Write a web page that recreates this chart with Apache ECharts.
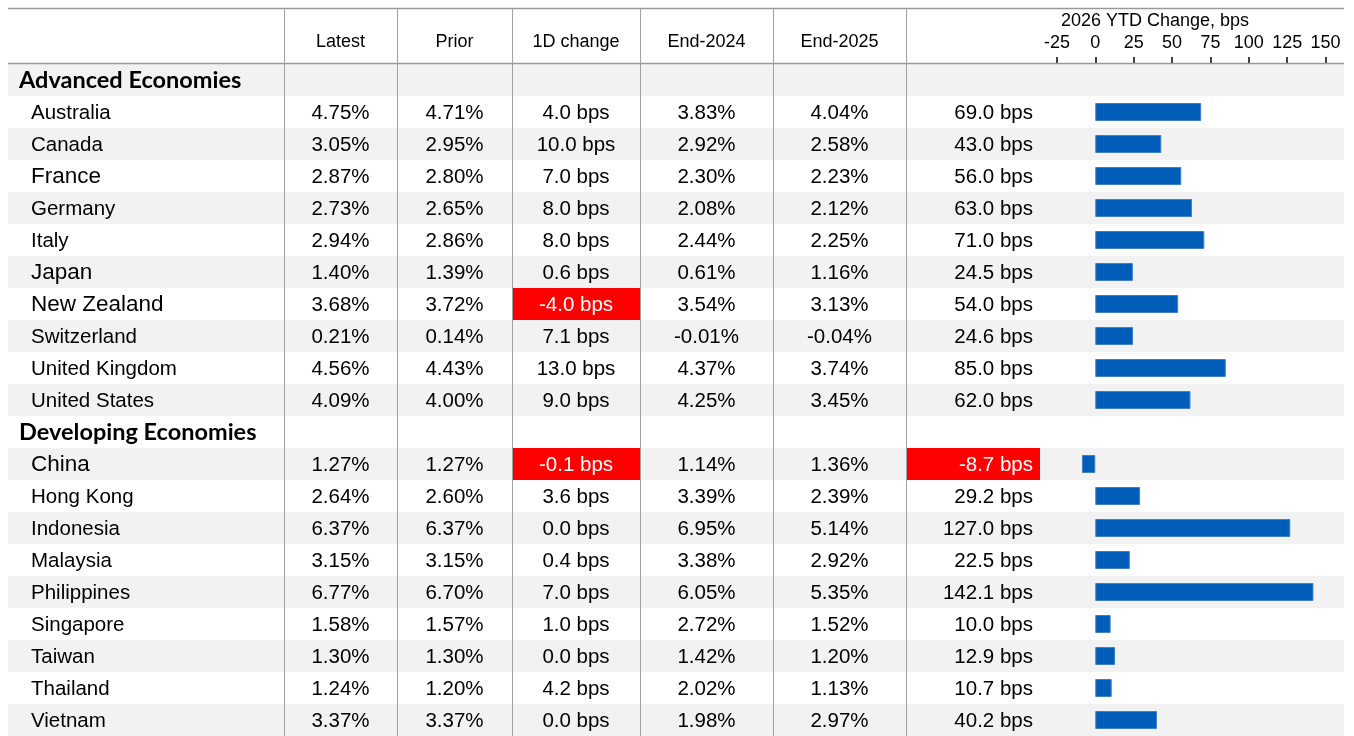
<!DOCTYPE html>
<html>
<head>
<meta charset="utf-8">
<script src="https://cdn.jsdelivr.net/npm/echarts@6/dist/echarts.min.js"></script>
<style>
  html, body { margin: 0; padding: 0; background: #fff; }
  #chart { width: 1354px; height: 736px; }
</style>
</head>
<body>
<div id="chart"></div>
<script>
const groupNames = ['Advanced Economies', 'Developing Economies']
const advanced = ['Australia', 'Canada', 'France', 'Germany', 'Italy', 'Japan', 'New Zealand', 'Switzerland', 'United Kingdom', 'United States']
const developing = ['China', 'Hong Kong', 'Indonesia', 'Malaysia', 'Philippines', 'Singapore', 'Taiwan', 'Thailand', 'Vietnam']
const headers = ['Latest', 'Prior', '1D change', 'End-2024', 'End-2025']
const axisTitle = '2026 YTD Change, bps'

// yields in %, changes in bps (advanced first, then developing)
const latest = [4.75, 3.05, 2.87, 2.73, 2.94, 1.40, 3.68, 0.21, 4.56, 4.09, 1.27, 2.64, 6.37, 3.15, 6.77, 1.58, 1.30, 1.24, 3.37]
const prior = [4.71, 2.95, 2.80, 2.65, 2.86, 1.39, 3.72, 0.14, 4.43, 4.00, 1.27, 2.60, 6.37, 3.15, 6.70, 1.57, 1.30, 1.20, 3.37]
const change1d = [4.0, 10.0, 7.0, 8.0, 8.0, 0.6, -4.0, 7.1, 13.0, 9.0, -0.1, 3.6, 0.0, 0.4, 7.0, 1.0, 0.0, 4.2, 0.0]
const end2024 = [3.83, 2.92, 2.30, 2.08, 2.44, 0.61, 3.54, -0.01, 4.37, 4.25, 1.14, 3.39, 6.95, 3.38, 6.05, 2.72, 1.42, 2.02, 1.98]
const end2025 = [4.04, 2.58, 2.23, 2.12, 2.25, 1.16, 3.13, -0.04, 3.74, 3.45, 1.36, 2.39, 5.14, 2.92, 5.35, 1.52, 1.20, 1.13, 2.97]
const ytdChange = [69.0, 43.0, 56.0, 63.0, 71.0, 24.5, 54.0, 24.6, 85.0, 62.0, -8.7, 29.2, 127.0, 22.5, 142.1, 10.0, 12.9, 10.7, 40.2]
const xTicks = [-25, 0, 25, 50, 75, 100, 125, 150]

// layout (page px, the table grid's x axis runs in page px)
const colEdges = [284, 397, 512, 640, 773, 906, 1040]
const bigNames = ['France', 'Japan', 'New Zealand', 'China']
const font = 'Liberation Sans'
const lineColor = '#a0a0a0'

const rows = []
let c = 0
rows.push({ label: groupNames[0], group: true })
advanced.forEach(name => rows.push({ label: name, c: c++ }))
rows.push({ label: groupNames[1], group: true })
developing.forEach(name => rows.push({ label: name, c: c++ }))
const rowLabels = rows.map(r => r.label)

function txt (x, y, text, opts) {
  return {
    type: 'text',
    style: Object.assign({
      x, y, text, fill: '#000',
      fontFamily: font, fontSize: 20.5, align: 'center', verticalAlign: 'middle'
    }, opts)
  }
}

function renderRow (params, api) {
  const i = params.dataIndex
  const row = rows[i]
  const mid = api.coord([colEdges[0], i])[1]
  const h = api.size([0, 1])[1]
  const top = mid - h / 2
  const ty = mid + 1
  const px = v => api.coord([v, i])[0]
  const kids = []
  if (i % 2 === 0) {
    kids.push({ type: 'rect', shape: { x: px(8), y: top, width: px(1344) - px(8), height: h }, style: { fill: '#f2f2f2' } })
  }
  if (row.group) {
    kids.push(txt(px(19), mid, row.label, { align: 'left', fontFamily: 'Lato', fontWeight: 'bold', fontSize: 23.5 }))
    return { type: 'group', children: kids }
  }
  const k = row.c
  kids.push(txt(px(31), ty, row.label, { align: 'left', fontSize: bigNames.includes(row.label) ? 22.5 : 20.5 }))
  const cells = [
    latest[k].toFixed(2) + '%',
    prior[k].toFixed(2) + '%',
    change1d[k].toFixed(1) + ' bps',
    end2024[k].toFixed(2) + '%',
    end2025[k].toFixed(2) + '%'
  ]
  cells.forEach((s, j) => {
    const x0 = px(colEdges[j])
    const x1 = px(colEdges[j + 1])
    const neg = j === 2 && change1d[k] < 0
    if (neg) kids.push({ type: 'rect', shape: { x: x0, y: top, width: x1 - x0, height: h }, style: { fill: '#ff0000' } })
    kids.push(txt((x0 + x1) / 2, ty, s, { fill: neg ? '#fff' : '#000' }))
  })
  const y0 = px(colEdges[5])
  const y1 = px(colEdges[6])
  const negY = ytdChange[k] < 0
  if (negY) kids.push({ type: 'rect', shape: { x: y0, y: top, width: y1 - y0, height: h }, style: { fill: '#ff0000' } })
  kids.push(txt(y1 - 7, ty, ytdChange[k].toFixed(1) + ' bps', { align: 'right', fill: negY ? '#fff' : '#000' }))
  return { type: 'group', children: kids }
}

const graphics = [
  { type: 'line', z: 100, shape: { x1: 8, y1: 8.5, x2: 1344, y2: 8.5 }, style: { stroke: '#999', lineWidth: 1.5 } },
  { type: 'line', z: 100, shape: { x1: 8, y1: 63.5, x2: 1344, y2: 63.5 }, style: { stroke: '#999', lineWidth: 1.5 } }
]
colEdges.slice(0, 6).forEach(x => {
  graphics.push({ type: 'line', z: 100, shape: { x1: x + 0.5, y1: 8, x2: x + 0.5, y2: 736 }, style: { stroke: lineColor, lineWidth: 1 } })
})
headers.forEach((hd, j) => {
  graphics.push({ type: 'text', z: 100, style: { x: (colEdges[j] + colEdges[j + 1]) / 2, y: 42, text: hd, fill: '#000', fontFamily: font, fontSize: 18, align: 'center', verticalAlign: 'middle' } })
})
graphics.push({ type: 'text', z: 100, style: { x: 1155, y: 21, text: axisTitle, fill: '#000', fontFamily: font, fontSize: 18, align: 'center', verticalAlign: 'middle' } })

const chart = echarts.init(document.getElementById('chart'), null, { renderer: 'canvas' })
chart.setOption({
  animation: false,
  backgroundColor: '#fff',
  graphic: graphics,
  grid: [
    { left: 8, top: 64, width: 1336, height: 672, outerBoundsMode: 'none', containLabel: false },
    { left: 1040, top: 64, width: 304, height: 672, outerBoundsMode: 'none', containLabel: false }
  ],
  xAxis: [
    { gridIndex: 0, type: 'value', min: 8, max: 1344, show: false },
    {
      gridIndex: 1, type: 'value', position: 'top', min: -36, max: 162,
      axisLine: { show: false },
      splitLine: { show: false },
      axisTick: { show: true, customValues: xTicks, length: 7, lineStyle: { color: '#000', width: 1.5 } },
      axisLabel: { customValues: xTicks, color: '#000', fontFamily: font, fontSize: 18, margin: 12 }
    }
  ],
  yAxis: [
    { gridIndex: 0, type: 'category', data: rowLabels, inverse: true, show: false },
    { gridIndex: 1, type: 'category', data: rowLabels, inverse: true, show: false }
  ],
  series: [
    {
      type: 'custom',
      xAxisIndex: 0,
      yAxisIndex: 0,
      z: 1,
      silent: true,
      renderItem: renderRow,
      data: rows.map((r, i) => [colEdges[0], i])
    },
    {
      type: 'bar',
      xAxisIndex: 1,
      yAxisIndex: 1,
      z: 3,
      barWidth: 18,
      itemStyle: { color: '#005eb8', borderColor: '#3f80c6', borderWidth: 1 },
      data: rows.map(r => (r.group ? '-' : ytdChange[r.c]))
    }
  ]
})
</script>
</body>
</html>
